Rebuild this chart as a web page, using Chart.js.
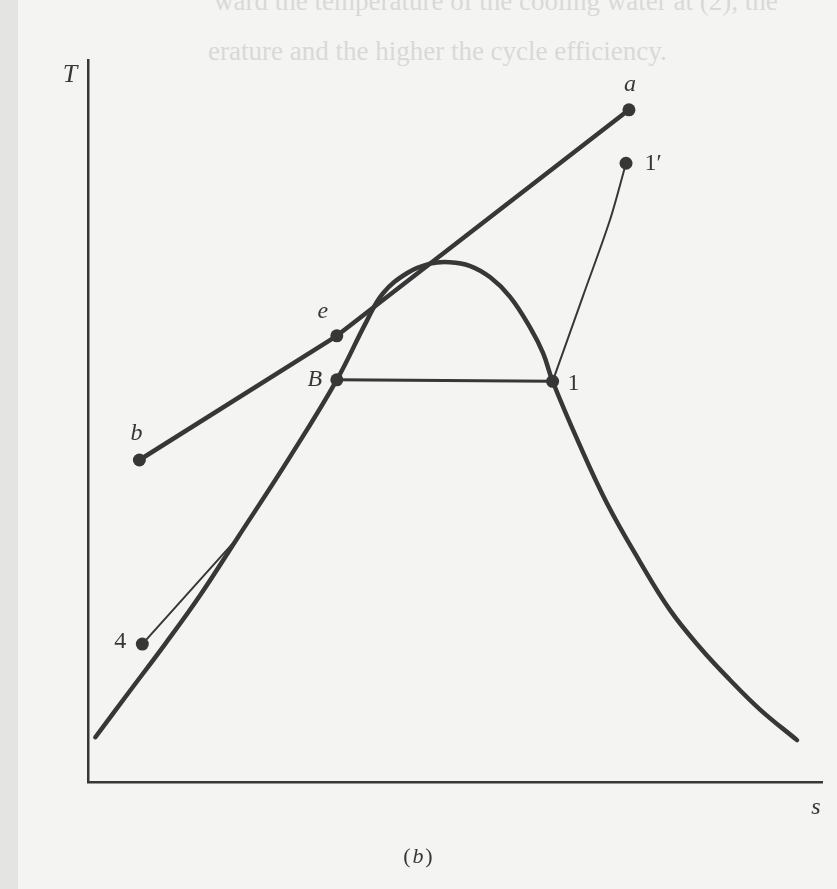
<!DOCTYPE html>
<html>
<head>
<meta charset="utf-8">
<script src="https://cdn.jsdelivr.net/npm/chart.js@4"></script>
<style>
  html, body { margin: 0; padding: 0; background: #f4f4f2; }
  #wrap { position: relative; width: 837px; height: 889px; overflow: hidden; }
  #edge { position: absolute; left: 0; top: 0; width: 18px; height: 889px; background: #e4e4e2; }
  .ghost { position: absolute; font-family: "Liberation Serif", serif; font-size: 27px; color: #d9d9d7; white-space: nowrap; }
  canvas { position: absolute; left: 0; top: 0; }
</style>
</head>
<body>
<div id="wrap">
  <div id="edge"></div>
  <div class="ghost" style="left:214px; top:-14px;">ward the temperature of the cooling water at (2), the</div>
  <div class="ghost" style="left:208px; top:36px;">erature and the higher the cycle efficiency.</div>
  <canvas id="c" width="837" height="889"></canvas>
</div>
<script>
// T-s diagram, entropy s on x, temperature T on y (both in arbitrary 0..100 units)
const domeS = [1.0, 5.7, 10.5, 15.3, 20.3, 27.5, 33.9, 37.9, 40.2, 43.5, 46.6, 49.3, 52.0, 54.8, 57.5, 60.2, 62.0, 63.3, 66.8, 70.7, 75.2, 79.3, 83.4, 87.5, 91.6, 96.6];
const domeT = [6.2, 12.6, 19.1, 25.9, 33.7, 45.0, 55.7, 63.7, 67.7, 70.5, 71.8, 72.0, 71.5, 69.9, 67.2, 63.0, 59.4, 55.5, 47.1, 38.6, 30.5, 23.8, 18.6, 14.1, 10.0, 5.8];

// heat source line b -> e -> a
const sourceS = [7.0, 33.9, 73.7];
const sourceT = [44.6, 61.8, 93.1];

// evaporation B -> 1
const evapS = [33.9, 63.3];
const evapT = [55.7, 55.5];

// pump / compression 4 -> saturated liquid line
const pumpS = [7.4, 20.3];
const pumpT = [19.1, 33.7];

// 1 -> 1'
const superS = [63.3, 67.4, 71.1, 73.3];
const superT = [55.5, 67.2, 77.8, 85.7];

// labelled state points
const pointNames = ['a', '1\u2032', 'e', 'B', '1', 'b', '4'];
const pointS = [73.7, 73.3, 33.9, 33.9, 63.3, 7.0, 7.4];
const pointT = [93.1, 85.7, 61.8, 55.7, 55.5, 44.6, 19.1];

const ink = '#383737';
const zip = (xs, ys) => xs.map((x, i) => ({ x, y: ys[i] }));
const line = (xs, ys, w, extra = {}) => ({
  data: zip(xs, ys), borderColor: ink, borderWidth: w, pointRadius: 0,
  fill: false, showLine: true, borderCapStyle: 'round', borderJoinStyle: 'round', ...extra
});

// label placement (pixel offsets from the point) and style
const labelStyle = {
  'a': { dx: 1, dy: -25, italic: true },
  '1\u2032': { dx: 27, dy: 0, italic: false },
  'e': { dx: -14, dy: -24, italic: true },
  'B': { dx: -22, dy: 0, italic: true },
  '1': { dx: 21, dy: 2, italic: false },
  'b': { dx: -3, dy: -26, italic: true },
  '4': { dx: -22, dy: -2, italic: false },
};

const labels = {
  id: 'labels',
  afterDatasetsDraw(chart) {
    const { ctx, scales: { x, y }, chartArea: a } = chart;
    ctx.save();
    ctx.fillStyle = ink;
    ctx.textAlign = 'center';
    ctx.textBaseline = 'middle';
    pointNames.forEach((n, i) => {
      const st = labelStyle[n];
      ctx.font = (st.italic ? 'italic ' : '') + '24px "Liberation Serif", serif';
      ctx.fillText(n, x.getPixelForValue(pointS[i]) + st.dx, y.getPixelForValue(pointT[i]) + st.dy);
    });
    ctx.font = 'italic 26px "Liberation Serif", serif';
    ctx.fillText('T', a.left - 18, a.top + 15);
    ctx.font = 'italic 24px "Liberation Serif", serif';
    ctx.fillText('s', a.right - 6, a.bottom + 26);
    ctx.font = '22px "Liberation Serif", serif';
    ctx.fillText('(', 407, 857);
    ctx.fillText(')', 429, 857);
    ctx.font = 'italic 22px "Liberation Serif", serif';
    ctx.fillText('b', 418, 857);
    ctx.restore();
  }
};

new Chart(document.getElementById('c'), {
  type: 'scatter',
  data: {
    datasets: [
      line(domeS, domeT, 4.5, { tension: 0.4 }),
      line(sourceS, sourceT, 4.5),
      line(evapS, evapT, 3),
      line(pumpS, pumpT, 2),
      line(superS, superT, 2, { tension: 0.3 }),
      {
        data: zip(pointS, pointT), showLine: false,
        pointRadius: 6.5, pointBackgroundColor: ink, pointBorderColor: ink, pointBorderWidth: 0
      }
    ]
  },
  options: {
    responsive: false,
    animation: false,
    layout: { padding: { left: 88, top: 60, right: 15, bottom: 107 } },
    plugins: { legend: { display: false }, tooltip: { enabled: false } },
    scales: {
      x: {
        type: 'linear', min: 0, max: 100,
        grid: { display: false, drawTicks: false },
        ticks: { display: false },
        border: { display: true, color: ink, width: 2.5 }
      },
      y: {
        type: 'linear', min: 0, max: 100,
        grid: { display: false, drawTicks: false },
        ticks: { display: false },
        border: { display: true, color: ink, width: 2.5 }
      }
    }
  },
  plugins: [labels]
});
</script>
</body>
</html>
